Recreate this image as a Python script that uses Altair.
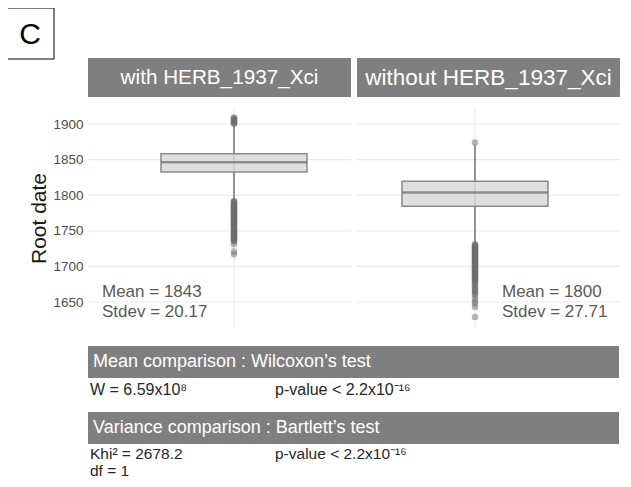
import altair as alt
import pandas as pd

# ---------------- data ----------------
groups = ["with HERB_1937_Xci", "without HERB_1937_Xci"]
q1 = [1832.5, 1784.6]
median = [1846.2, 1803.8]
q3 = [1858.4, 1819.6]
whisker_lo = [1793, 1733]
whisker_hi = [1898, 1871]
means = ["1843", "1800"]
stdevs = ["20.17", "27.71"]

outliers_with = [1900, 1901, 1902, 1903, 1904, 1905, 1906, 1907, 1908, 1909,
                 1792, 1791, 1790, 1789, 1788, 1787, 1786, 1785, 1784, 1783,
                 1782, 1781, 1780, 1779, 1778, 1777, 1776, 1775, 1774, 1773,
                 1772, 1771, 1770, 1769, 1768, 1767, 1766, 1765, 1764, 1763,
                 1762, 1761, 1760, 1759, 1758, 1757, 1756, 1755, 1754, 1753,
                 1752, 1751, 1750, 1749, 1748, 1747, 1746, 1745, 1744, 1743,
                 1742, 1741, 1740, 1739, 1738, 1737, 1736, 1735, 1731, 1721, 1717]
outliers_without = [1874,
                    1731, 1730, 1729, 1728, 1727, 1726, 1725, 1724, 1723, 1722,
                    1721, 1720, 1719, 1718, 1717, 1716, 1715, 1714, 1713, 1712,
                    1711, 1710, 1709, 1708, 1707, 1706, 1705, 1704, 1703, 1702,
                    1701, 1700, 1699, 1698, 1697, 1696, 1695, 1694, 1693, 1692,
                    1691, 1690, 1689, 1688, 1687, 1686, 1685, 1684, 1683, 1682,
                    1681, 1680, 1678, 1676, 1674, 1672, 1670, 1668, 1666, 1664,
                    1662, 1660, 1655, 1651, 1648, 1643, 1629]

tick_values = [1650, 1700, 1750, 1800, 1850, 1900]

wilcoxon_W = "W = 6.59x10⁸"
wilcoxon_p = "p-value < 2.2x10⁻¹⁶"
bartlett_khi = "Khi² = 2678.2"
bartlett_df = "df = 1"
bartlett_p = "p-value < 2.2x10⁻¹⁶"

# ---------------- tables ----------------
box_df = pd.DataFrame({"group": groups, "q1": q1, "median": median, "q3": q3,
                       "lo": whisker_lo, "hi": whisker_hi})
out_df = pd.DataFrame({
    "group": [groups[0]] * len(outliers_with) + [groups[1]] * len(outliers_without),
    "root": outliers_with + outliers_without,
})
grid_df = pd.DataFrame({"root": tick_values})

FONT = "Liberation Sans"
W, H = 532, 220

xs = alt.Scale(type="point", domain=groups, range=[146, 387], padding=0)
ys = alt.Scale(domain=[1613.5, 1922.5], nice=False, zero=False)
yaxis = alt.Axis(values=tick_values, format="d", grid=False, domain=False, ticks=False,
                 labelFontSize=13.5, labelColor="#4d4d4d", labelPadding=5,
                 title="Root date", titleFontSize=21, titleFontWeight="normal",
                 titleColor="#1a1a1a", titlePadding=3, labelFont=FONT, titleFont=FONT)


def X():
    return alt.X("group:N", scale=xs, axis=None)


def Y(field):
    return alt.Y(f"{field}:Q", scale=ys, axis=yaxis)


one = pd.DataFrame({"k": [0]})


def rect(x, x2, y, y2, **kw):
    return alt.Chart(one).mark_rect(**kw).encode(
        x=alt.value(x), x2=alt.value(x2), y=alt.value(y), y2=alt.value(y2))


def label(text, x, y, size, color, align="left"):
    return alt.Chart(pd.DataFrame({"t": [text]})).mark_text(
        align=align, baseline="middle", fontSize=size, color=color, font=FONT
    ).encode(text="t:N", x=alt.value(x), y=alt.value(y))


grid_left = alt.Chart(grid_df).mark_rule(color="#ebebeb", strokeWidth=1.2).encode(
    y=Y("root"), x=alt.value(0), x2=alt.value(263))
grid_right = alt.Chart(grid_df).mark_rule(color="#ebebeb", strokeWidth=1.2).encode(
    y=Y("root"), x=alt.value(269), x2=alt.value(532))
vgrid = alt.Chart(box_df).mark_rule(color="#ebebeb", strokeWidth=1.2).encode(
    x=X(), y=alt.value(0), y2=alt.value(H))

whiskers = alt.Chart(box_df).mark_rule(color="#8a8a8a", strokeWidth=1.8).encode(
    x=X(), y=Y("lo"), y2="hi")
boxes = alt.Chart(box_df).mark_bar(size=146, fill="#d9d9d9", fillOpacity=0.85,
                                   stroke="#8a8a8a", strokeWidth=1.5).encode(
    x=X(), y=Y("q1"), y2="q3")
medians = alt.Chart(box_df).mark_tick(size=146, thickness=2.5, color="#6b6b6b").encode(
    x=X(), y=Y("median"))
points = alt.Chart(out_df).mark_circle(size=42, color="#6e6e6e", opacity=0.5).encode(
    x=X(), y=Y("root"))

layers = [
    grid_left, grid_right, vgrid, whiskers, boxes, medians, points,
    # panel letter
    rect(-82, -34, -100, -49, fill="white", stroke="black", strokeWidth=1),
    label("C", -58, -73, 30, "black", align="center"),
    # facet strips
    rect(0, 263, -50, -11, fill="#7f7f7f"),
    rect(269, 532, -50, -11, fill="#7f7f7f"),
    label(groups[0], 131.5, -30, 20.7, "white", align="center"),
    label(groups[1], 400.5, -30, 22.5, "white", align="center"),
    # stats in panels
    label(f"Mean = {means[0]}", 14, 184, 17, "#595959"),
    label(f"Stdev = {stdevs[0]}", 14, 204, 17, "#595959"),
    label(f"Mean = {means[1]}", 414, 184, 17, "#595959"),
    label(f"Stdev = {stdevs[1]}", 414, 204, 17, "#595959"),
    # test boxes
    rect(0, 531, 238, 270, fill="#7f7f7f"),
    label("Mean comparison : Wilcoxon’s test", 5, 254, 18, "white"),
    label(wilcoxon_W, 2, 282, 16, "#262626"),
    label(wilcoxon_p, 187, 282, 16, "#262626"),
    rect(0, 531, 304, 336, fill="#7f7f7f"),
    label("Variance comparison : Bartlett’s test", 5, 320, 18, "white"),
    label(bartlett_khi, 2, 346, 15.5, "#262626"),
    label(bartlett_p, 187, 346, 15.5, "#262626"),
    label(bartlett_df, 2, 363, 15.5, "#262626"),
]

chart = alt.layer(*layers).properties(
    width=W, height=H,
    padding={"left": 80, "top": 100, "right": 0, "bottom": 151},
    autosize=alt.AutoSizeParams(type="none"),
).configure(font=FONT).configure_view(strokeWidth=0)

chart.save("out.html", embed_options={"renderer": "svg", "actions": False})
